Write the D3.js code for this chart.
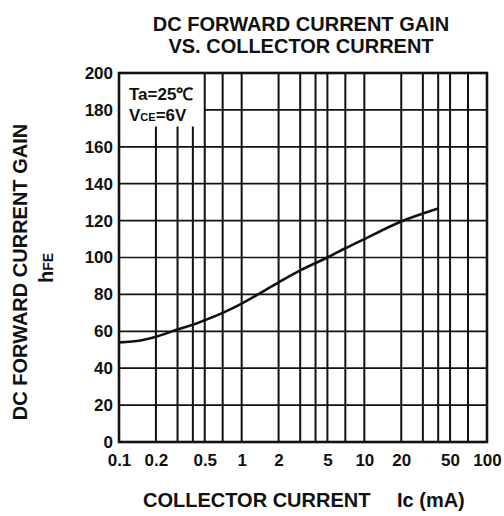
<!DOCTYPE html>
<html>
<head>
<meta charset="utf-8">
<script src="https://cdn.jsdelivr.net/npm/d3@7"></script>
<style>
  body { margin: 0; background: #fff; }
  svg text { font-family: "Liberation Sans", Arial, sans-serif; font-weight: bold; fill: #111; }
</style>
</head>
<body>
<div id="chart"></div>
<script>
// curve
var ic_values = [0.1, 0.15, 0.2, 0.3, 0.4, 0.5, 0.7, 1, 2, 3, 5, 7, 10, 20, 40];
var hfe_values = [54, 55, 57, 61, 63.5, 66, 70, 75, 86.5, 93, 100, 105, 110, 119.5, 126.5];

var x_ticks = [0.1, 0.2, 0.5, 1, 2, 5, 10, 20, 50, 100];
var x_grid = [0.2, 0.3, 0.4, 0.5, 0.7, 1, 2, 3, 4, 5, 7, 10, 20, 30, 40, 50, 70];
var y_ticks = [0, 20, 40, 60, 80, 100, 120, 140, 160, 180, 200];

var width = 504, height = 516;
var plotLeft = 119, plotRight = 487, plotTop = 73, plotBottom = 442;

var svg = d3.select("#chart").append("svg")
    .attr("width", width)
    .attr("height", height);

var x = d3.scaleLog().domain([0.1, 100]).range([plotLeft, plotRight]);
var y = d3.scaleLinear().domain([0, 200]).range([plotBottom, plotTop]);

// legend corner stays clear of grid
var legendX = 0.5, legendY = 171;

// horizontal grid
svg.selectAll(".hgrid")
    .data(y_ticks.filter(d => d > 0 && d < 200))
    .join("line")
    .attr("class", "hgrid")
    .attr("x1", d => d > legendY ? x(legendX) : plotLeft)
    .attr("x2", plotRight)
    .attr("y1", d => y(d))
    .attr("y2", d => y(d))
    .attr("stroke", "#111")
    .attr("stroke-width", 1.7);

// vertical grid
svg.selectAll(".vgrid")
    .data(x_grid)
    .join("line")
    .attr("class", "vgrid")
    .attr("x1", d => x(d))
    .attr("x2", d => x(d))
    .attr("y1", d => d < legendX ? y(legendY) : plotTop)
    .attr("y2", plotBottom)
    .attr("stroke", "#111")
    .attr("stroke-width", 2);

// frame
svg.append("rect")
    .attr("x", plotLeft)
    .attr("y", plotTop)
    .attr("width", plotRight - plotLeft)
    .attr("height", plotBottom - plotTop)
    .attr("fill", "none")
    .attr("stroke", "#111")
    .attr("stroke-width", 2.6);

// curve
var line = d3.line()
    .x((d, i) => x(ic_values[i]))
    .y(d => y(d))
    .curve(d3.curveCatmullRom);

svg.append("path")
    .datum(hfe_values)
    .attr("d", line)
    .attr("fill", "none")
    .attr("stroke", "#111")
    .attr("stroke-width", 2.6);

// axes (labels only)
var yAxis = svg.append("g")
    .attr("transform", "translate(" + plotLeft + ",0)")
    .call(d3.axisLeft(y).tickValues(y_ticks).tickSize(0).tickPadding(6));
yAxis.select(".domain").remove();
yAxis.selectAll("text").style("font-size", "17px").attr("fill", "#111");

var xAxis = svg.append("g")
    .attr("transform", "translate(0," + plotBottom + ")")
    .call(d3.axisBottom(x).tickValues(x_ticks).tickFormat(d => String(d)).tickSize(0).tickPadding(12));
xAxis.select(".domain").remove();
xAxis.selectAll("text").style("font-size", "17px").attr("fill", "#111");

// titles
svg.append("text")
    .attr("x", 301).attr("y", 31)
    .attr("text-anchor", "middle")
    .style("font-size", "20px")
    .text("DC FORWARD CURRENT GAIN");
svg.append("text")
    .attr("x", 301).attr("y", 53)
    .attr("text-anchor", "middle")
    .style("font-size", "20px")
    .text("VS. COLLECTOR CURRENT");

svg.append("text")
    .attr("transform", "translate(27,272) rotate(-90)")
    .attr("text-anchor", "middle")
    .style("font-size", "20px")
    .text("DC FORWARD CURRENT GAIN");

var hfe = svg.append("text")
    .attr("transform", "translate(53,268) rotate(-90)")
    .attr("text-anchor", "middle")
    .style("font-size", "20px");
hfe.append("tspan").text("h");
hfe.append("tspan").style("font-size", "14px").text("FE");

svg.append("text")
    .attr("x", 143).attr("y", 507)
    .style("font-size", "20px")
    .text("COLLECTOR CURRENT");
svg.append("text")
    .attr("x", 397).attr("y", 507)
    .style("font-size", "20px")
    .text("Ic (mA)");

// conditions
svg.append("text")
    .attr("x", 129).attr("y", 100)
    .style("font-size", "17px")
    .text("Ta=25\u2103");
var vce = svg.append("text")
    .attr("x", 129).attr("y", 121)
    .style("font-size", "17px");
vce.append("tspan").text("V");
vce.append("tspan").style("font-size", "11px").text("CE");
vce.append("tspan").text("=6V");
</script>
</body>
</html>
